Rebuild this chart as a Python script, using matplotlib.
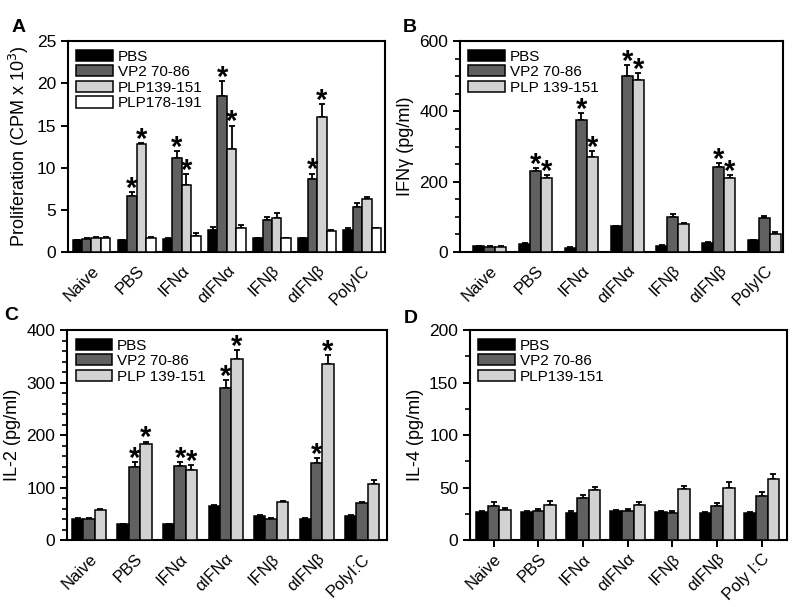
import matplotlib
matplotlib.use("Agg")
import matplotlib.pyplot as plt
from matplotlib.patches import Patch
import numpy as np

plt.rcParams['font.family'] = ['Liberation Sans', 'DejaVu Sans']

groups_abc = ["Naive", "PBS", "IFN\u03b1", "\u03b1IFN\u03b1", "IFN\u03b2", "\u03b1IFN\u03b2", "PolyIC"]
groups_c = ["Naive", "PBS", "IFN\u03b1", "\u03b1IFN\u03b1", "IFN\u03b2", "\u03b1IFN\u03b2", "PolyI:C"]
groups_d = ["Naive", "PBS", "IFN\u03b1", "\u03b1IFN\u03b1", "IFN\u03b2", "\u03b1IFN\u03b2", "Poly I:C"]

# Panel A: proliferation (CPM x 10^3)
A_series = ["PBS", "VP2 70-86", "PLP139-151", "PLP178-191"]
A_vals = [
    [1.4, 1.4, 1.5, 2.6, 1.6, 1.6, 2.6],
    [1.5, 6.6, 11.1, 18.5, 3.8, 8.6, 5.3],
    [1.7, 12.8, 7.9, 12.2, 4.0, 16.0, 6.3],
    [1.7, 1.7, 1.9, 2.8, 1.6, 2.5, 2.8],
]
A_err = [
    [0.05, 0.05, 0.1, 0.3, 0.1, 0.1, 0.2],
    [0.1, 0.5, 0.9, 1.8, 0.4, 0.7, 0.5],
    [0.1, 0.1, 1.3, 2.8, 0.6, 1.5, 0.2],
    [0.05, 0.05, 0.3, 0.4, 0.1, 0.15, 0.05],
]
A_star = [
    [0, 0, 0, 0, 0, 0, 0],
    [0, 1, 1, 1, 0, 1, 0],
    [0, 1, 1, 1, 0, 1, 0],
    [0, 0, 0, 0, 0, 0, 0],
]

# Panel B: IFN-gamma (pg/ml)
B_series = ["PBS", "VP2 70-86", "PLP 139-151"]
B_vals = [
    [17, 22, 12, 73, 18, 25, 33],
    [15, 230, 375, 500, 100, 243, 97],
    [15, 210, 270, 490, 80, 210, 52],
]
B_err = [
    [1, 2, 1, 2, 2, 2, 2],
    [1, 8, 20, 33, 8, 9, 6],
    [1, 8, 18, 20, 3, 10, 5],
]
B_star = [
    [0, 0, 0, 0, 0, 0, 0],
    [0, 1, 1, 1, 0, 1, 0],
    [0, 1, 1, 1, 0, 1, 0],
]

# Panel C: IL-2 (pg/ml)
C_series = ["PBS", "VP2 70-86", "PLP 139-151"]
C_vals = [
    [40, 30, 30, 65, 47, 40, 46],
    [40, 140, 142, 290, 40, 147, 70],
    [58, 184, 133, 345, 72, 336, 108],
]
C_err = [
    [2, 1, 1, 2, 1, 2, 2],
    [2, 9, 7, 15, 2, 10, 2],
    [2, 4, 10, 17, 3, 17, 7],
]
C_star = [
    [0, 0, 0, 0, 0, 0, 0],
    [0, 1, 1, 1, 0, 1, 0],
    [0, 1, 1, 1, 0, 1, 0],
]

# Panel D: IL-4 (pg/ml)
D_series = ["PBS", "VP2 70-86", "PLP139-151"]
D_vals = [
    [27, 27, 26, 28, 27, 26, 26],
    [33, 28, 40, 28, 26, 33, 42],
    [29, 34, 48, 34, 49, 50, 58],
]
D_err = [
    [1, 1, 2, 1, 1, 1, 1],
    [3, 2, 3, 2, 2, 2, 4],
    [2, 3, 3, 2, 3, 5, 5],
]

colors4 = ["#000000", "#606060", "#d2d2d2", "#ffffff"]

fig = plt.figure(figsize=(8.0, 6.07), dpi=100)


def panel(rect, labels, series, vals, errs, stars, ymax, major, minor, bw, xlim,
          ylabel, letter, letter_xy, xticks_marks=False):
    ax = fig.add_axes(rect)
    n = len(series)
    x = np.arange(len(labels))
    for i in range(n):
        pos = x + (i - (n - 1) / 2) * bw
        ax.bar(pos, vals[i], width=bw, color=colors4[i], edgecolor="black",
               linewidth=1.1, zorder=3)
        ax.errorbar(pos, vals[i], yerr=[np.zeros(len(labels)), errs[i]], fmt="none",
                    ecolor="black", elinewidth=1.3, capsize=2.5, capthick=1.3, zorder=2)
        if stars is not None:
            for j in range(len(labels)):
                if stars[i][j]:
                    ax.annotate("*", (pos[j], vals[i][j] + errs[i][j]), xytext=(0, -3.5),
                                textcoords="offset points", ha="center", va="baseline",
                                fontsize=21, fontweight="bold", zorder=5)
    ax.set_xlim(*xlim)
    ax.set_ylim(0, ymax)
    ax.set_yticks(major)
    if minor is not None:
        ax.set_yticks(minor, minor=True)
    ax.set_xticks(x)
    ax.set_xticklabels(labels, rotation=45, ha="right", rotation_mode="anchor", fontsize=12)
    ax.tick_params(axis="y", labelsize=12.5, width=1.4, length=5, direction="out")
    ax.tick_params(axis="y", which="minor", width=1.2, length=3.5)
    if xticks_marks:
        ax.tick_params(axis="x", width=1.4, length=5, pad=3)
    else:
        ax.tick_params(axis="x", length=0, pad=8)
    for s in ax.spines.values():
        s.set_linewidth(1.5)
    ax.set_ylabel(ylabel, fontsize=13)
    handles = [Patch(facecolor=colors4[i], edgecolor="black", linewidth=1.1) for i in range(n)]
    ax.legend(handles, series, loc="upper left", frameon=False, fontsize=11,
              handlelength=2.4, handleheight=0.75, labelspacing=0.1, handletextpad=0.3,
              borderaxespad=0.35, borderpad=0.2)
    fig.text(letter_xy[0], letter_xy[1], letter, fontsize=14, fontweight="bold",
             ha="left", va="top")
    return ax


panel([0.085, 0.585, 0.396, 0.347], groups_abc, A_series, A_vals, A_err, A_star,
      25, [0, 5, 10, 15, 20, 25], None, 0.21, (-0.52, 6.5),
      "Proliferation (CPM x 10$^3$)", "A", (0.014, 0.968))

panel([0.575, 0.585, 0.404, 0.347], groups_abc, B_series, B_vals, B_err, B_star,
      600, [0, 200, 400, 600], np.arange(0, 601, 50), 0.24, (-0.65, 6.41),
      "IFN\u03b3 (pg/ml)", "B", (0.503, 0.968))

panel([0.084, 0.110, 0.400, 0.346], groups_c, C_series, C_vals, C_err, C_star,
      400, [0, 100, 200, 300, 400], np.arange(0, 401, 20), 0.25, (-0.48, 6.55),
      "IL-2 (pg/ml)", "C", (0.005, 0.494))

panel([0.5875, 0.110, 0.396, 0.346], groups_d, D_series, D_vals, D_err, None,
      200, [0, 50, 100, 150, 200], np.arange(0, 201, 25), 0.26, (-0.53, 6.56),
      "IL-4 (pg/ml)", "D", (0.505, 0.49), xticks_marks=True)

fig.savefig("out.png", dpi=100)
